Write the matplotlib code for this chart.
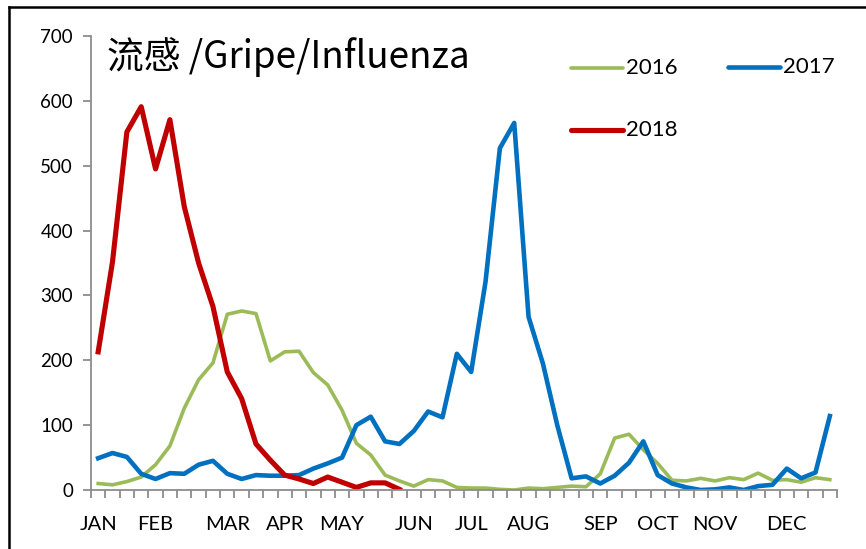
import matplotlib
matplotlib.use("Agg")
import matplotlib.pyplot as plt
from matplotlib.lines import Line2D
import numpy as np

plt.rcParams['font.family'] = ['Lato', 'Noto Sans CJK SC', 'DejaVu Sans']

title = "流感 /Gripe/Influenza"
months = ["JAN", "FEB", "MAR", "APR", "MAY", "JUN", "JUL", "AUG", "SEP", "OCT", "NOV", "DEC"]
month_week = [0, 4, 9, 13, 17, 22, 26, 30, 35, 39, 43, 48]
yticks = [0, 100, 200, 300, 400, 500, 600, 700]

y2016 = [10, 8, 13, 20, 39, 68, 126, 170, 196, 271, 276, 272, 199, 213, 214, 181,
         162, 123, 72, 54, 23, 14, 6, 16, 14, 4, 3, 3, 1, 0, 3, 2, 4, 6, 5, 25,
         80, 86, 62, 41, 15, 14, 18, 14, 19, 16, 26, 15, 16, 12, 19, 16]
y2017 = [49, 57, 51, 25, 17, 26, 25, 39, 45, 25, 17, 23, 22, 22, 23, 33, 41, 50,
         100, 113, 75, 71, 91, 121, 112, 210, 182, 321, 527, 566, 267, 195, 100,
         18, 21, 10, 22, 42, 75, 23, 10, 4, 0, 1, 4, 0, 6, 8, 33, 18, 27, 114]
y2018 = [213, 352, 552, 591, 495, 571, 437, 350, 283, 182, 141, 71, 46, 23, 17,
         10, 20, 12, 4, 11, 11, 1]

W, H = 866, 549
fig = plt.figure(figsize=(W / 100, H / 100), dpi=100)
ax = fig.add_axes([91 / W, 1 - 490 / H, (837 - 91) / W, (490 - 36) / H])

n = len(y2016)
ax.plot(np.arange(len(y2016)), y2016, color="#9BBB59", lw=2.6, solid_joinstyle="round", label="2016")
ax.plot(np.arange(len(y2017)), y2017, color="#0070C0", lw=3.3, solid_joinstyle="round", label="2017")
ax.plot(np.arange(len(y2018)), y2018, color="#C00000", lw=3.7, solid_joinstyle="round", label="2018")

ax.set_xlim(-0.5, n - 0.5)
ax.set_ylim(0, 700)
ax.set_yticks(yticks)
ax.set_yticklabels([str(v) for v in yticks], fontsize=13.5)
ax.set_xticks(month_week)
ax.set_xticklabels(months, fontsize=14.5)
ax.set_xticks(np.arange(n + 1) - 0.5, minor=True)
ax.tick_params(axis="x", which="major", length=0, pad=19)
ax.tick_params(axis="x", which="minor", length=6, color="#8C8C8C", width=1.3, direction="out")
ax.tick_params(axis="y", length=6, color="#8C8C8C", width=1.3, direction="out", pad=7)

for s in ["top", "right"]:
    ax.spines[s].set_visible(False)
for s in ["left", "bottom"]:
    ax.spines[s].set_color("#8C8C8C")
    ax.spines[s].set_linewidth(1.3)

fig.text(107 / W, 1 - 57 / H, title, fontsize=26.5,
         family=["Noto Sans CJK SC", "DejaVu Sans"], va="center", ha="left")

# legend drawn manually in figure coordinates
def leg(x0, y0, color, lw, label):
    fig.add_artist(Line2D([x0 / W, (x0 + 52) / W], [1 - y0 / H, 1 - y0 / H],
                          color=color, lw=lw, solid_capstyle="round"))
    fig.text((x0 + 55) / W, 1 - y0 / H, label, fontsize=16, va="center", ha="left")

leg(571, 68, "#9BBB59", 2.6, "2016")
leg(728, 67, "#0070C0", 3.3, "2017")
leg(571, 130, "#C00000", 3.7, "2018")

# outer frame (partially visible)
fig.add_artist(Line2D([9 / W, 1.0], [1 - 7 / H, 1 - 7 / H], color="black", lw=1.8))
fig.add_artist(Line2D([9 / W, 9 / W], [1 - 7 / H, 0.0], color="black", lw=1.8))

fig.savefig("out.png", dpi=100, facecolor="white")
